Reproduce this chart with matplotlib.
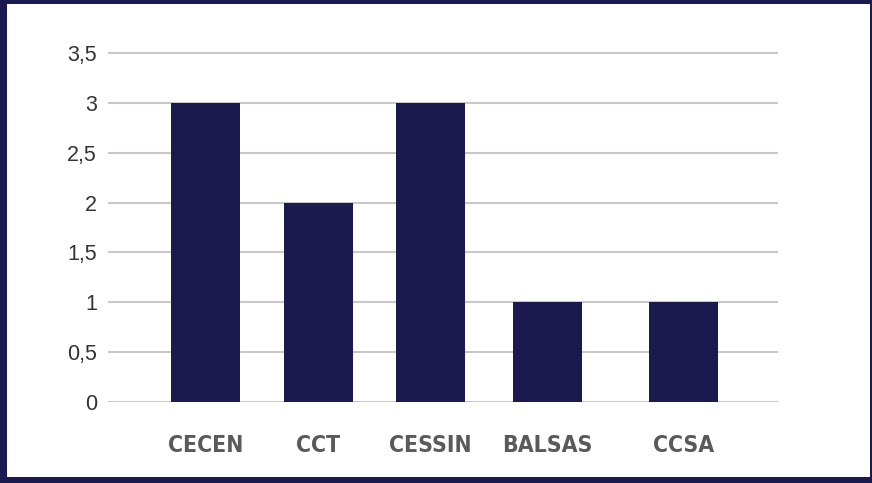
import matplotlib.pyplot as plt
from matplotlib.patches import Rectangle

# data
categories = ["CECEN", "CCT", "CESSIN", "BALSAS", "CCSA"]
values = [3, 2, 3, 1, 1]
yticks = [0, 0.5, 1, 1.5, 2, 2.5, 3, 3.5]
ytick_labels = ["0", "0,5", "1", "1,5", "2", "2,5", "3", "3,5"]

# bar centres on the 0..670 axis (the original spacing is uneven)
x_pos = [97.5, 210.5, 322.5, 439.5, 575.5]
bar_w = 69

navy = "#1a1a4e"

fig = plt.figure(figsize=(8.72, 4.83), dpi=100)
fig.patch.set_facecolor(navy)
# white card inside the navy frame
fig.add_artist(Rectangle((7/872, 6/483), (870-7)/872, (479-6)/483,
                         transform=fig.transFigure, facecolor="white",
                         edgecolor="none", zorder=-10))

ax = fig.add_axes([108/872, (483-402)/483, 670/872, (402-43)/483])
ax.set_facecolor("none")
ax.bar(x_pos, values, width=bar_w, color=navy, zorder=3)

ax.set_xlim(0, 670)
ax.set_ylim(0, 3.6)
ax.set_yticks(yticks)
ax.set_yticklabels(ytick_labels, fontsize=15.5, color="#333333", family="Liberation Sans")
ax.set_xticks(x_pos)
ax.set_xticklabels(categories, fontsize=16.5, color="#5a5a5a", weight="bold",
                   family="DejaVu Sans", stretch="condensed")
ax.tick_params(axis="y", length=0, pad=8)
ax.tick_params(axis="x", length=0, pad=23)
ax.grid(axis="y", color="#c8c8c8", linewidth=1.5, zorder=0)
for s in ax.spines.values():
    s.set_visible(False)

fig.savefig("out.png", dpi=100, facecolor=fig.get_facecolor())
